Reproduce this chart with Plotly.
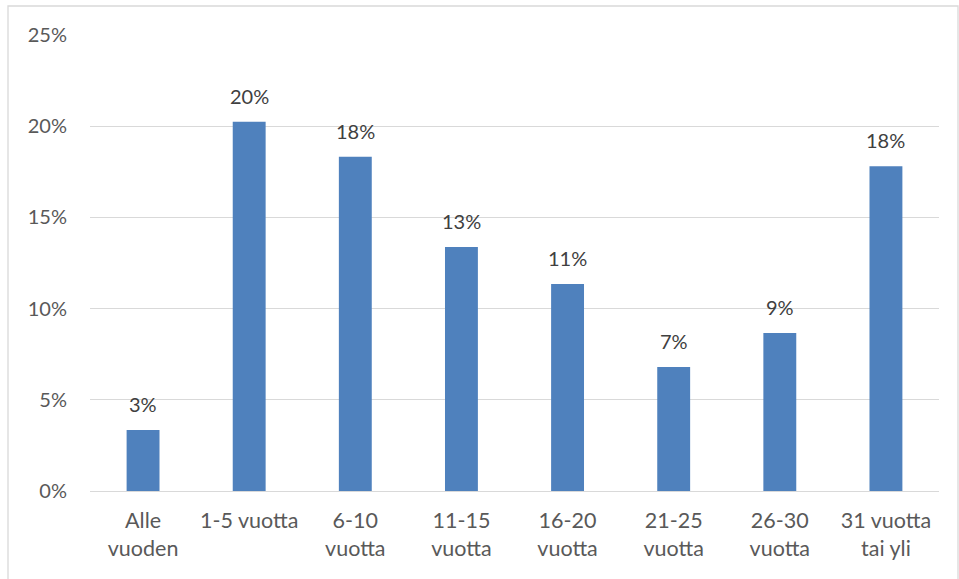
import plotly.graph_objects as go

categories = ["Alle<br>vuoden", "1-5 vuotta", "6-10<br>vuotta", "11-15<br>vuotta",
              "16-20<br>vuotta", "21-25<br>vuotta", "26-30<br>vuotta", "31 vuotta<br>tai yli"]
values = [0.0334, 0.2025, 0.1832, 0.1338, 0.1135, 0.068, 0.0866, 0.178]
tick_vals = [0, 0.05, 0.10, 0.15, 0.20, 0.25]
tick_text = ["0%", "5%", "10%", "15%", "20%", "25%"]

font_family = "Lato, 'Open Sans', sans-serif"
text_color = "#595959"
fs = 20

fig = go.Figure(go.Bar(
    x=categories, y=values,
    marker=dict(color="#4f81bd", line=dict(width=0)),
    width=0.31,
))

for c, v in zip(categories, values):
    fig.add_annotation(x=c, y=v, text=f"{round(v * 100):.0f}%", showarrow=False,
                       yanchor="bottom", yshift=12,
                       font=dict(size=fs, color="#404040", family=font_family))

fig.update_layout(
    width=959, height=579,
    margin=dict(l=90, r=20, t=35, b=88),
    plot_bgcolor="white", paper_bgcolor="white",
    showlegend=False,
    font=dict(family=font_family, size=fs, color=text_color),
)
fig.update_yaxes(
    range=[0, 0.25], tickvals=tick_vals, ticktext=tick_text,
    showgrid=True, gridcolor="#d9d9d9", gridwidth=1.3,
    zeroline=False, showline=False, ticklabelstandoff=22,
    tickfont=dict(size=fs, color=text_color),
)
fig.update_xaxes(
    showline=True, linecolor="#d9d9d9", linewidth=1.3,
    tickfont=dict(size=21.5, color=text_color),
    ticklabelstandoff=10,
)
fig.add_shape(type="rect", xref="paper", yref="paper",
              x0=(8 - 90) / 849, x1=(958 - 90) / 849,
              y0=(491 - 585) / 456, y1=(491 - 6) / 456,
              line=dict(color="#d9d9d9", width=1.3), layer="below")

fig.write_html("out.html")
